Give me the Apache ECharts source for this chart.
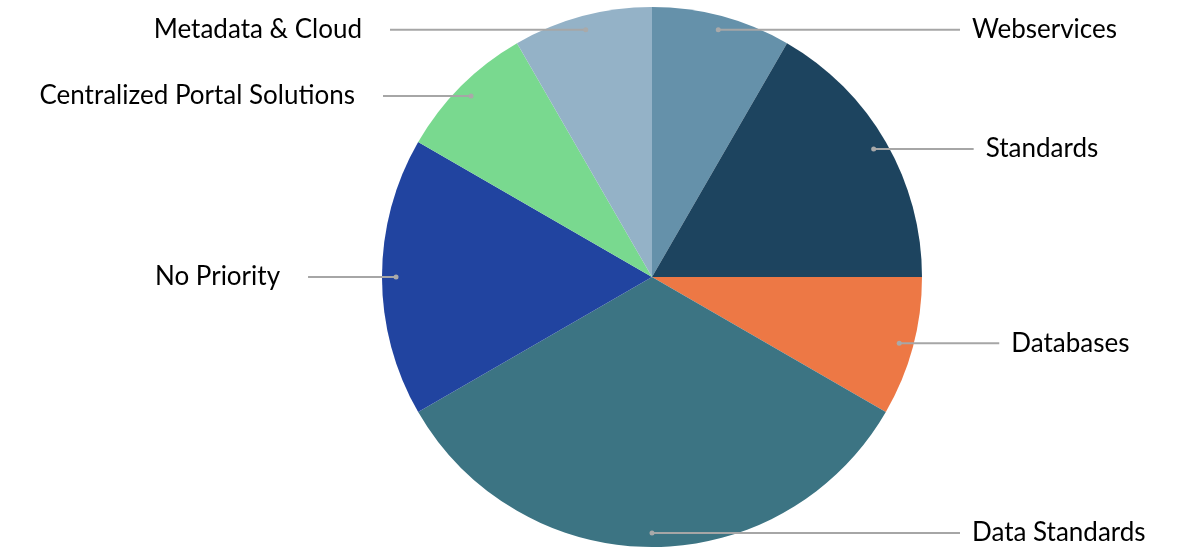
<!DOCTYPE html>
<html>
<head>
<meta charset="utf-8">
<script src="https://cdn.jsdelivr.net/npm/echarts@6/dist/echarts.min.js"></script>
<style>
  html, body { margin: 0; padding: 0; background: #fff; }
  #chart { width: 1179px; height: 547px; }
</style>
</head>
<body>
<div id="chart"></div>
<script>
// slice names and shares, clockwise from 12 o'clock
var categories = ['Webservices', 'Standards', 'Databases', 'Data Standards', 'No Priority', 'Centralized Portal Solutions', 'Metadata & Cloud'];
var values = [1, 2, 1, 4, 2, 1, 1];
var colors = ['#6591aa', '#1d445f', '#ed7845', '#3c7483', '#2144a0', '#79d98f', '#94b2c7'];

var cx = 652, cy = 277, R = 270;
var dotR = 0.948; // where the leader line starts, as share of radius

var total = values.reduce(function (a, b) { return a + b; }, 0);
var mids = [];
var acc = 0;
values.forEach(function (v) { mids.push(acc + v / 2); acc += v; });

var chart = echarts.init(document.getElementById('chart'), null, { renderer: 'canvas' });

var option = {
  animation: false,
  polar: { center: [cx, cy], radius: R },
  angleAxis: { min: 0, max: total, startAngle: 90, show: false },
  radiusAxis: { min: 0, max: 1, show: false },
  series: [{
    type: 'pie',
    center: [cx, cy],
    radius: R,
    startAngle: 90,
    silent: true,
    data: categories.map(function (c, i) {
      return { name: c, value: values[i], itemStyle: { color: colors[i] } };
    }),
    label: { show: false },
    labelLine: { show: false },
    z: 1
  }, {
    // leader lines + labels, placed at each slice's mid angle
    type: 'custom',
    coordinateSystem: 'polar',
    silent: true,
    data: mids.map(function (m, i) { return [dotR, m, i]; }),
    renderItem: function (params, api) {
      var p = api.coord([api.value(0), api.value(1)]);
      var i = api.value(2);
      var right = p[0] >= cx - 1;
      var end = right ? Math.max(p[0] + 100, 960) : Math.min(p[0] - 88, 390);
      return {
        type: 'group',
        children: [{
          type: 'line',
          shape: { x1: p[0], y1: p[1], x2: end, y2: p[1] },
          style: { stroke: '#a6a6a6', lineWidth: 2 }
        }, {
          type: 'circle',
          shape: { cx: p[0], cy: p[1], r: 2.5 },
          style: { fill: '#a9a9a9' }
        }, {
          type: 'text',
          x: right ? end + 12 : end - 28,
          y: p[1],
          style: {
            text: categories[i],
            fill: '#000',
            font: '26px Lato',
            align: right ? 'left' : 'right',
            verticalAlign: 'middle'
          }
        }]
      };
    },
    z: 5
  }]
};

chart.setOption(option);
</script>
</body>
</html>
